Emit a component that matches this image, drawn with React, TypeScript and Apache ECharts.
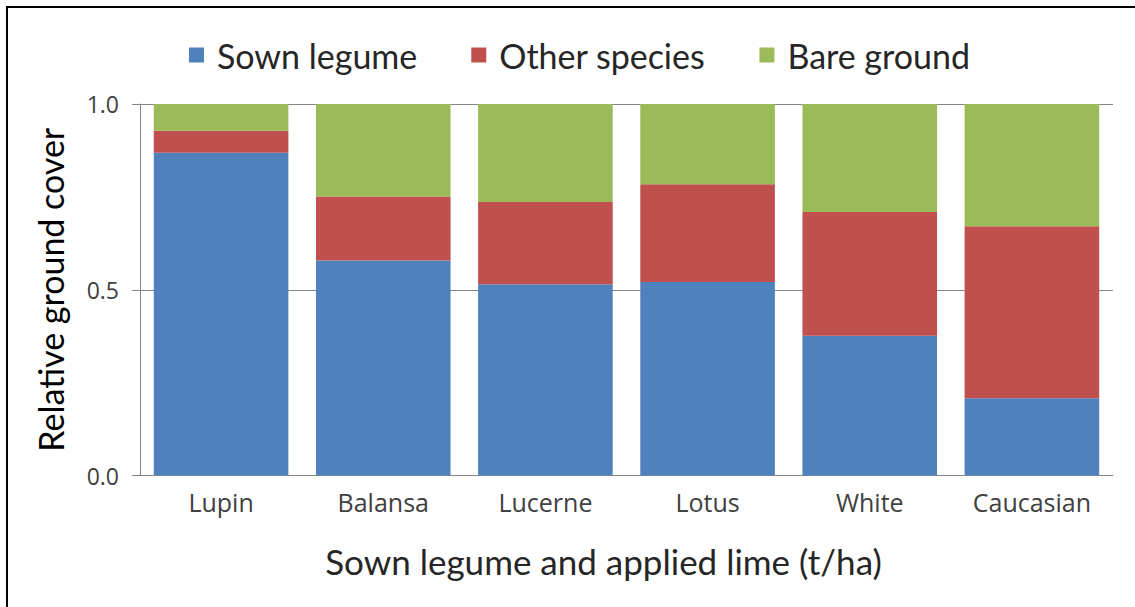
import React, { useEffect, useRef } from "react";
import * as echarts from "echarts";

const categories = ["Lupin", "Balansa", "Lucerne", "Lotus", "White", "Caucasian"];
const sownLegume = [0.869, 0.579, 0.515, 0.521, 0.376, 0.208];
const otherSpecies = [0.059, 0.172, 0.221, 0.263, 0.333, 0.463];
const bareGround = [0.072, 0.249, 0.264, 0.216, 0.291, 0.329];
const seriesNames = ["Sown legume", "Other species", "Bare ground"];
const colors = ["#4F81BD", "#C0504D", "#9BBB59"];

const FONT = "Lato";
const LABEL_FONT = "Open Sans";
const TEXT = "#404040";
const AXIS = "#868686";

export default function App() {
  const ref = useRef<HTMLDivElement>(null);
  useEffect(() => {
    if (!ref.current) return;
    const chart = echarts.init(ref.current, null, { renderer: "svg" });
    const data = [sownLegume, otherSpecies, bareGround];
    chart.setOption({
      animation: false,
      backgroundColor: "#ffffff",
      textStyle: { fontFamily: FONT },
      graphic: [
        {
          type: "rect",
          shape: { x: 7, y: 7, width: 1200, height: 700 },
          style: { fill: "none", stroke: "#000000", lineWidth: 2 },
          silent: true,
        },
      ],
      legend: {
        data: seriesNames,
        left: 184,
        top: 33,
        itemWidth: 15,
        itemHeight: 15,
        itemGap: 54,
        icon: "rect",
        textStyle: { fontFamily: FONT, fontSize: 34, color: "#262626", padding: [0, 0, 0, 8] },
      },
      grid: { left: 140, right: 22, top: 104, bottom: 131.5, containLabel: false },
      xAxis: {
        type: "category",
        data: categories,
        name: "Sown legume and applied lime (t/ha)",
        nameLocation: "middle",
        nameGap: 68,
        nameTextStyle: { fontFamily: FONT, fontSize: 35, color: "#262626", padding: [0, 46, 0, 0] },
        axisLine: { show: true, lineStyle: { color: AXIS, width: 1 } },
        axisTick: { show: false },
        axisLabel: { fontFamily: LABEL_FONT, fontSize: 25, color: TEXT, margin: 14 },
      },
      yAxis: {
        type: "value",
        min: 0,
        max: 1,
        interval: 0.5,
        name: "Relative ground cover",
        nameLocation: "middle",
        nameGap: 73,
        nameTextStyle: { fontFamily: FONT, fontSize: 34, color: "#000000" },
        axisLine: { show: true, lineStyle: { color: AXIS, width: 1 } },
        axisTick: { show: true, length: 8, lineStyle: { color: AXIS } },
        splitLine: { show: true, lineStyle: { color: AXIS, width: 1 } },
        axisLabel: {
          fontFamily: LABEL_FONT,
          fontSize: 23,
          color: TEXT,
          margin: 21,
          formatter: (v: number) => v.toFixed(1),
        },
      },
      series: seriesNames.map((name, i) => ({
        name,
        type: "bar",
        stack: "total",
        data: data[i],
        barCategoryGap: "17%",
        itemStyle: { color: colors[i] },
      })),
    });
    return () => chart.dispose();
  }, []);
  return (
    <div
      ref={ref}
      style={{ position: "fixed", left: 0, top: 0, width: 1135, height: 607 }}
    />
  );
}
